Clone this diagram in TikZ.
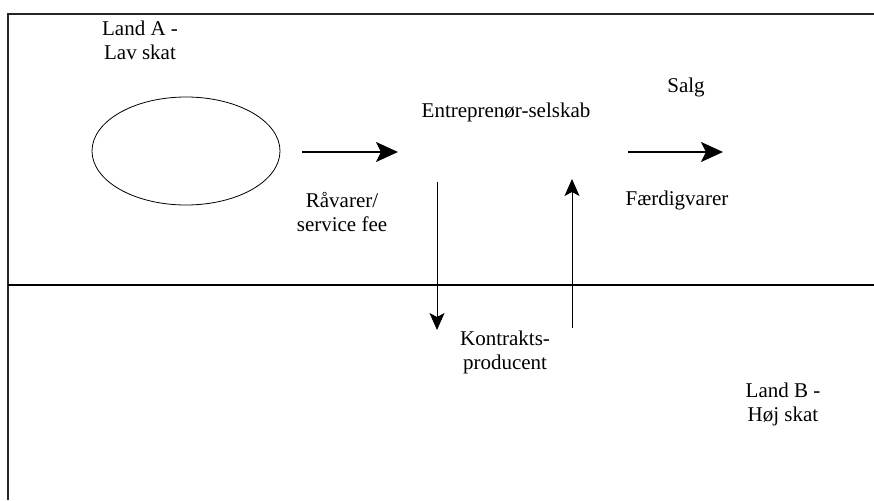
\documentclass[tikz,border=0pt]{standalone}
\usepackage{fontspec}
\setmainfont{Liberation Serif}
\usetikzlibrary{arrows.meta,shapes.geometric}
\begin{document}
\begin{tikzpicture}[x=1pt,y=-1pt,
  lbl/.style={font=\fontsize{21}{24}\selectfont, align=center, inner sep=0pt},
  frameline/.style={line width=1.4pt, black!85},
  midline/.style={line width=1.2pt},
  bigarrow/.style={line width=2pt, -{Stealth[length=22pt,width=20pt,inset=5pt]}},
  thinarrow/.style={line width=1pt, -{Stealth[length=17pt,width=15pt,inset=4pt]}}]
\useasboundingbox (0,0) rectangle (874,500);
% frame lines
\coordinate (tl) at (8,14);
\coordinate (tr) at (874,14);
\coordinate (bl) at (8,500);
\coordinate (ml) at (8,285);
\coordinate (mr) at (874,285);
\draw[frameline] (tr) -- (tl) -- (bl);
\draw[midline] (ml) -- (mr);
% ellipse
\node[draw, ellipse, minimum width=188pt, minimum height=108pt, inner sep=0pt, line width=0.8pt] (ell) at (186,151) {};
% texts
\node[lbl] (landA) at (140,40) {Land A -\\Lav skat};
\node[lbl] (entr) at (506,112) {Entreprenør-selskab};
\node[lbl] (salg) at (686,87) {Salg};
\node[lbl] (raa) at (342,212) {Råvarer/\\service fee};
\node[lbl] (faerd) at (677,200) {Færdigvarer};
\node[lbl] (kontr) at (505,352) {Kontrakts-\\producent};
\node[lbl] (landB) at (783,404) {Land B -\\Høj skat};
% arrows
\coordinate (a1s) at (302,152);
\coordinate (a1e) at (398,152);
\coordinate (a2s) at (628,152);
\coordinate (a2e) at (723,152);
\coordinate (dS) at (437,182);
\coordinate (dE) at (437,330);
\coordinate (uS) at (572,328);
\coordinate (uE) at (572,179);
\draw[bigarrow] (a1s) -- (a1e);
\draw[bigarrow] (a2s) -- (a2e);
\draw[thinarrow] (dS) -- (dE);
\draw[thinarrow] (uS) -- (uE);
\end{tikzpicture}
\end{document}
